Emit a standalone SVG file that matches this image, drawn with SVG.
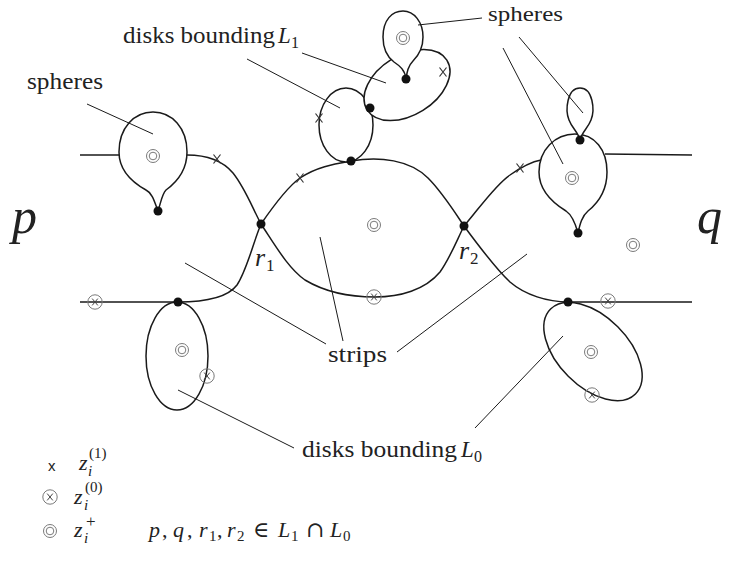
<svg xmlns="http://www.w3.org/2000/svg" xmlns:xlink="http://www.w3.org/1999/xlink" width="732" height="588" viewBox="0 0 732 588">
<style>
.c{fill:none;stroke:#1a1a1a;stroke-width:1.5}
.w{fill:#fff;stroke:#1a1a1a;stroke-width:1.5}
.ld{fill:none;stroke:#1a1a1a;stroke-width:1}
.dot{fill:#111}
.g{fill:none;stroke:#7a7a7a;stroke-width:1}
.xk{fill:none;stroke:#333;stroke-width:1.2}
text{fill:#222}
</style>
<defs>
<g id="zp"><circle class="g" r="6.5"/><circle class="g" r="3.8"/></g>
<g id="z0"><circle class="g" r="7.2"/><path d="M-2.8,-3.4 L2.8,3.4 M2.8,-3.4 L-2.8,3.4" style="fill:none;stroke:#444;stroke-width:1"/></g>
<path id="z1" class="xk" d="M-3.5,-4.5 L3.5,4.5 M3.5,-4.5 L-3.5,4.5"/>
</defs>
<rect width="732" height="588" fill="#fff"/>

<g id="curves">
<path class="c" d="M80,155 L119,155"/>
<path class="c" d="M187,155 C207,155 222,160 233,173 C245,188 252,207 261,224"/>
<path class="c" d="M80,302 L178,302 C205,302 228,297 237,285 C247,270 253,243 261,224"/>
<path class="c" d="M261,224 C272,208 286,188 300,178 C316,167 334,164 351,161 C380,156 410,160 428,178 C442,192 452,208 464,226"/>
<path class="c" d="M261,224 C275,245 288,268 305,280 C325,292 350,297 375,297 C400,297 425,290 440,272 C450,258 457,240 464,226"/>
<path class="c" d="M464,226 C478,210 495,185 510,175 C520,168 530,162 541,160"/>
<path class="c" d="M464,226 C478,245 495,268 510,282 C525,295 548,302 568,302 L692,302"/>
<path class="c" d="M605,154 L692,155"/>
</g>

<g id="left-sphere">
<path class="w" d="M158,211 C154,200 152,193 146,190 C128,180 119,168 119,152 C119,128 134,112 153,112 C172,112 187,128 187,152 C187,170 177,182 166,190 C162,194 161,202 158,211 Z"/>
<use xlink:href="#zp" x="153" y="156"/>
<circle class="dot" cx="158" cy="211" r="4.5"/>
</g>

<g id="disk-a">
<ellipse class="w" cx="346" cy="125" rx="27" ry="37"/>
</g>
<g id="disk-b">
<ellipse class="w" cx="407" cy="85" rx="47" ry="30" transform="rotate(-32 407 85)"/>
</g>
<g id="top-sphere">
<path class="w" d="M406,79 C405,70 400,66 394,62 C386,56 383,47 383,37 C383,20 392,11 403,11 C414,11 423,22 423,37 C423,49 418,56 413,61 C408,66 407,72 406,79 Z"/>
<use xlink:href="#zp" x="403" y="38"/>
</g>

<g id="right-sphere">
<path class="w" d="M578,233 C575,222 572,215 566,211 C548,200 539,188 539,172 C539,150 555,134 575,134 C595,134 607,150 607,172 C607,190 598,203 588,211 C582,216 580,224 578,233 Z"/>
<path class="w" d="M580,140 C578,132 572,128 569,120 C565,110 567,88 580,88 C593,88 595,110 591,120 C588,128 582,132 580,140 Z"/>
<use xlink:href="#zp" x="572" y="178"/>
<circle class="dot" cx="580" cy="140" r="4.5"/>
<circle class="dot" cx="578" cy="233" r="4.5"/>
</g>

<g id="left-disk">
<ellipse class="c" cx="177" cy="356" rx="31" ry="54"/>
<use xlink:href="#zp" x="182" y="350"/>
<use xlink:href="#z0" x="207" y="376"/>
</g>

<g id="right-disk">
<ellipse class="c" cx="593" cy="351.5" rx="60" ry="35" transform="rotate(45 593 351.5)"/>
<use xlink:href="#zp" x="591" y="352"/>
<use xlink:href="#z0" x="592" y="395"/>
</g>

<g id="strip">
<use xlink:href="#zp" x="374" y="225"/>
<use xlink:href="#z0" x="374" y="297"/>
</g>

<g id="markers">
<use xlink:href="#zp" x="633" y="245"/>
<use xlink:href="#z0" x="95" y="302"/>
<use xlink:href="#z0" x="608" y="301"/>
<use xlink:href="#z1" x="217" y="159"/>
<use xlink:href="#z1" x="300" y="178"/>
<use xlink:href="#z1" x="520" y="168"/>
<use xlink:href="#z1" x="319" y="118"/>
<use xlink:href="#z1" x="443" y="72"/>
<circle class="dot" cx="261" cy="224" r="4.5"/>
<circle class="dot" cx="464" cy="226" r="4.5"/>
<circle class="dot" cx="178" cy="302" r="4.5"/>
<circle class="dot" cx="351" cy="161" r="4.5"/>
<circle class="dot" cx="370" cy="108" r="4.5"/>
<circle class="dot" cx="406" cy="79" r="4.5"/>
<circle class="dot" cx="568" cy="302" r="4.5"/>
</g>

<g id="leaders">
<path class="ld" d="M87,104 L153,134"/>
<path class="ld" d="M247,59 L340,108"/>
<path class="ld" d="M302,53 L386,83"/>
<path class="ld" d="M482,18 L418,25"/>
<path class="ld" d="M519,37 L583,113"/>
<path class="ld" d="M503,48 L563,164"/>
<path class="ld" d="M185,263 L326,344"/>
<path class="ld" d="M320,237 L343,341"/>
<path class="ld" d="M527,254 L397,352"/>
<path class="ld" d="M178,390 L294,448"/>
<path class="ld" d="M475,428 L563,336"/>
</g>

<g id="labels" font-family="Liberation Serif, Times New Roman, serif">
<text x="27" y="89" font-size="23" textLength="76" lengthAdjust="spacingAndGlyphs">spheres</text>
<text x="488" y="21" font-size="21" textLength="75" lengthAdjust="spacingAndGlyphs">spheres</text>
<text x="123" y="43" font-size="23" textLength="152" lengthAdjust="spacingAndGlyphs">disks bounding</text>
<text x="278" y="43" font-size="23" font-style="italic">L</text>
<text x="291" y="48" font-size="16">1</text>
<text x="328" y="362" font-size="23" textLength="59" lengthAdjust="spacingAndGlyphs">strips</text>
<text x="302" y="457" font-size="23" textLength="155" lengthAdjust="spacingAndGlyphs">disks bounding</text>
<text x="461" y="457" font-size="23" font-style="italic">L</text>
<text x="474" y="462" font-size="16">0</text>
<text x="12" y="233" font-size="50" font-style="italic">p</text>
<text x="697" y="233" font-size="50" font-style="italic">q</text>
<text x="255" y="266" font-size="26" font-style="italic">r</text>
<text x="266" y="271" font-size="17">1</text>
<text x="459" y="259" font-size="26" font-style="italic">r</text>
<text x="470" y="264" font-size="17">2</text>
</g>

<g id="legend" font-family="Liberation Serif, Times New Roman, serif">
<text x="48" y="471" font-family="Liberation Sans, Arial, sans-serif" font-size="15">x</text>
<text x="79" y="470" font-size="22" font-style="italic">z</text>
<text x="88" y="476" font-size="15" font-style="italic">i</text>
<text x="89" y="458" font-size="15">(1)</text>
<use xlink:href="#z0" x="50" y="497"/>
<text x="74" y="504" font-size="22" font-style="italic">z</text>
<text x="84" y="510" font-size="15" font-style="italic">i</text>
<text x="85" y="492" font-size="15">(0)</text>
<use xlink:href="#zp" x="50" y="531"/>
<text x="74" y="537" font-size="22" font-style="italic">z</text>
<text x="84" y="543" font-size="15" font-style="italic">i</text>
<text x="86" y="527" font-size="17">+</text>
<text x="149" y="537" font-size="22" font-style="italic">p</text>
<text x="162" y="537" font-size="22">,</text>
<text x="173" y="537" font-size="22" font-style="italic">q</text>
<text x="187" y="537" font-size="22">,</text>
<text x="199" y="537" font-size="22" font-style="italic">r</text>
<text x="209" y="541" font-size="15">1</text>
<text x="217" y="537" font-size="22">,</text>
<text x="227" y="537" font-size="22" font-style="italic">r</text>
<text x="237" y="541" font-size="15">2</text>
<text x="253" y="537" font-size="22" font-family="DejaVu Serif, serif">∈</text>
<text x="278" y="537" font-size="22" font-style="italic">L</text>
<text x="291" y="541" font-size="15">1</text>
<text x="306" y="537" font-size="22" font-family="DejaVu Serif, serif">∩</text>
<text x="330" y="537" font-size="22" font-style="italic">L</text>
<text x="343" y="541" font-size="15">0</text>
</g>
</svg>
